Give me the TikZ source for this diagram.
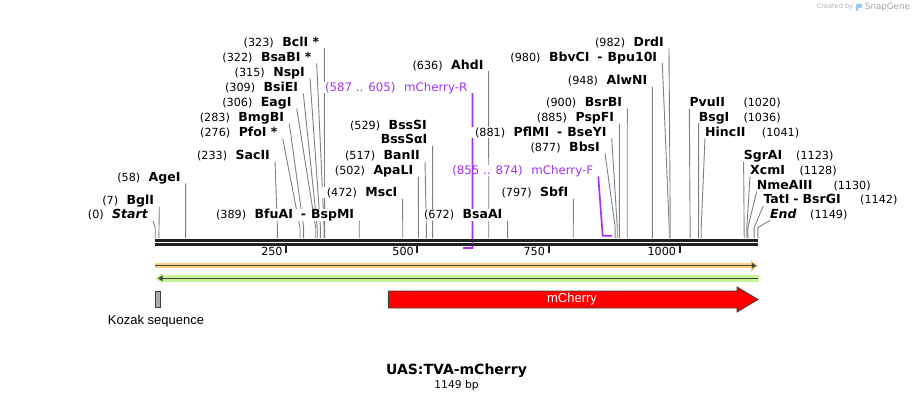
\documentclass[tikz,border=0pt]{standalone}
\usepackage{fontspec}
\setmainfont{DejaVu Sans}
\newfontfamily\arialfont{Liberation Sans}
\usetikzlibrary{arrows.meta}
\pgfdeclarelayer{background}
\pgfsetlayers{background,main}
\definecolor{primer}{RGB}{163,51,240}
\definecolor{orangeband}{RGB}{252,208,130}
\definecolor{greenband}{RGB}{200,244,150}
\definecolor{featline}{RGB}{68,68,68}
\definecolor{kozakgray}{RGB}{168,172,178}
\definecolor{logoblue}{RGB}{150,205,240}
\newcommand\enz[1]{{\fontsize{12.5}{14}\selectfont\bfseries #1}}

\begin{document}
\begin{tikzpicture}[x=1pt,y=-1pt,
  lbl/.style={font=\fontsize{11.2}{13}\selectfont,anchor=base east,fill=white,inner xsep=5pt,inner ysep=0.5pt,text height=9pt,text depth=1.5pt},
  rlbl/.style={lbl,anchor=base west,inner xsep=0pt},
  plbl/.style={lbl,text=primer,font=\fontsize{11.8}{13}\selectfont},
  cut/.style={draw=black!50,line width=0.9pt},
  pr/.style={draw=primer,line width=1.7pt},
  seq/.style={draw=black!87,line width=3pt},
  tk/.style={draw=black!87,line width=2pt},
  feat/.style={draw=black!75,line width=0.9pt}]
  \def\ox{155.2}\def\bp{0.5245}
  \useasboundingbox (0,0) rectangle (914,402);
  % ---------- sites on the sequence ----------
  \foreach \p in {0,7,58,233,276,283,306,309,315,322,323,389,472,502,517,529,636,672,797,877,881,885,900,948,980,982,1020,1036,1041,1123,1128,1130,1142,1149} {
    \coordinate (s\p) at ({\ox+\bp*\p},238);
    \coordinate (t\p) at ({\ox+\bp*\p},227.5);
  }
  \coordinate (pr587) at ({\ox+\bp*587},248);
  \coordinate (pr605) at ({\ox+\bp*605},248);
  \coordinate (pf855) at ({\ox+\bp*855-1},235.7);
  \coordinate (pf874) at ({\ox+\bp*874-1.5},235.7);
  % ---------- primers ----------
  \node[plbl] (mchR) at (472.5,91) {(587 .. 605)\hspace{8.5pt}mCherry-R};
  \node[plbl] (mchF) at (598.3,174.3) {(855 .. 874)\hspace{8.5pt}mCherry-F};
  \draw[pr] (mchR.south east) -- (pr605) -- (pr587);
  \draw[pr] (mchF.south east) -- (pf855) -- (pf874);
  % ---------- enzymes, left side ----------
  \node[lbl] (start) at (153,218.6) {(0)\hspace{8.5pt}\enz{\itshape Start}};
  \node[lbl] (bglI) at (159.3,204.3) {(7)\hspace{8.5pt}\enz{BglI}};
  \node[lbl] (ageI) at (185.7,181) {(58)\hspace{8.5pt}\enz{AgeI}};
  \node[lbl] (sacII) at (275,159.3) {(233)\hspace{8.5pt}\enz{SacII}};
  \node[lbl] (pfoI) at (282.7,136.3) {(276)\hspace{8.5pt}\enz{PfoI *}};
  \node[lbl] (bmgBI) at (289.3,121.3) {(283)\hspace{8.5pt}\enz{BmgBI}};
  \node[lbl] (eagI) at (296.7,106.3) {(306)\hspace{8.5pt}\enz{EagI}};
  \node[lbl] (bsiEI) at (303.3,91.3) {(309)\hspace{8.5pt}\enz{BsiEI}};
  \node[lbl] (nspI) at (310,76.3) {(315)\hspace{8.5pt}\enz{NspI}};
  \node[lbl] (bsaBI) at (316.7,61) {(322)\hspace{8.5pt}\enz{BsaBI *}};
  \node[lbl] (bclI) at (324.3,46) {(323)\hspace{8.5pt}\enz{BclI *}};
  \node[lbl] (bfuAI) at (359.3,218.6) {(389)\hspace{8.5pt}\enz{BfuAI\hspace{8pt}-\hspace{5pt}BspMI}};
  \node[lbl] (mscI) at (402.6,196.3) {(472)\hspace{8.5pt}\enz{MscI}};
  \node[lbl] (apaLI) at (418.4,174.3) {(502)\hspace{8.5pt}\enz{ApaLI}};
  \node[lbl] (banII) at (425,159.3) {(517)\hspace{8.5pt}\enz{BanII}};
  \node[lbl] (bssSaI) at (432.6,143.6) {\enz{BssSαI}};
  \node[lbl] (bssSI) at (432,129.3) {(529)\hspace{8.5pt}\enz{BssSI}};
  \node[lbl] (ahdI) at (488.6,69) {(636)\hspace{8.5pt}\enz{AhdI}};
  \node[lbl] (bsaAI) at (507.6,218.6) {(672)\hspace{8.5pt}\enz{BsaAI}};
  \node[lbl] (sbfI) at (573.4,196.3) {(797)\hspace{8.5pt}\enz{SbfI}};
  \node[lbl] (bbsI) at (605,151) {(877)\hspace{8.5pt}\enz{BbsI}};
  \node[lbl] (pflMI) at (611.7,136) {(881)\hspace{8.5pt}\enz{PflMI\hspace{8pt}-\hspace{5pt}BseYI}};
  \node[lbl] (pspFI) at (619.3,121.3) {(885)\hspace{8.5pt}\enz{PspFI}};
  \node[lbl] (bsrBI) at (627.3,106.3) {(900)\hspace{8.5pt}\enz{BsrBI}};
  \node[lbl] (alwNI) at (652.4,84.3) {(948)\hspace{8.5pt}\enz{AlwNI}};
  \node[lbl] (bbvCI) at (662.3,61) {(980)\hspace{8.5pt}\enz{BbvCI\hspace{8pt}-\hspace{5pt}Bpu10I}};
  \node[lbl] (drdI) at (669,46) {(982)\hspace{8.5pt}\enz{DrdI}};
  \begin{pgfonlayer}{background}
  \foreach \n/\p in {bglI/7,ageI/58,bclI/323,bfuAI/389,mscI/472,apaLI/502,bssSaI/529,ahdI/636,bsaAI/672,sbfI/797,bsrBI/900,alwNI/948}
    \draw[cut] (\n.south east) -- (s\p);
  \foreach \n/\p in {start/0,sacII/233,pfoI/276,bmgBI/283,eagI/306,bsiEI/309,nspI/315,bsaBI/322,banII/517,bbsI/877,pflMI/881,pspFI/885,bbvCI/980,drdI/982}
    \draw[cut] (\n.south east) -- (t\p) -- (s\p);
  \end{pgfonlayer}
  % ---------- enzymes, right side ----------
  \node[rlbl] (pvuII) at (689.3,106.6) {\enz{PvuII}};
  \node[rlbl] (bsgI) at (698.6,121) {\enz{BsgI}};
  \node[rlbl] (hincII) at (705,136) {\enz{HincII}};
  \node[rlbl] (sgrAI) at (743.6,159.3) {\enz{SgrAI}};
  \node[rlbl] (xcmI) at (750,174.3) {\enz{XcmI}};
  \node[rlbl] (nmeAIII) at (756.7,189.3) {\enz{NmeAIII}};
  \node[rlbl] (tatI) at (763.3,203.6) {\enz{TatI\hspace{4pt}-\hspace{4pt}BsrGI}};
  \node[rlbl] (end) at (770,218.3) {\enz{\itshape End}};
  \node[rlbl] (pvuIIn) at (743.3,106.6) {(1020)};
  \node[rlbl] (bsgIn) at (743.3,121) {(1036)};
  \node[rlbl] (hincIIn) at (761.7,136) {(1041)};
  \node[rlbl] (sgrAIn) at (796,159.3) {(1123)};
  \node[rlbl] (xcmIn) at (799.3,174.3) {(1128)};
  \node[rlbl] (nmeAIIIn) at (833.3,189.3) {(1130)};
  \node[rlbl] (tatIn) at (860,203.6) {(1142)};
  \node[rlbl] (endn) at (810,218.3) {(1149)};
  \begin{pgfonlayer}{background}
  \foreach \n/\p in {pvuII/1020,bsgI/1036,sgrAI/1123}
    \draw[cut] (\n.south west) -- (s\p);
  \foreach \n/\p in {hincII/1041,xcmI/1128,nmeAIII/1130,tatI/1142,end/1149}
    \draw[cut] (\n.south west) -- (t\p) -- (s\p);
  \end{pgfonlayer}
  % ---------- sequence and ruler ----------
  \coordinate (a1) at (155,240.5); \coordinate (b1) at (758,240.5);
  \coordinate (a2) at (155,244.5); \coordinate (b2) at (758,244.5);
  \draw[seq] (a1) -- (b1);
  \draw[seq] (a2) -- (b2);
  \draw[pr] ([yshift=-1pt]pr605 |- a1) -- ([yshift=1pt]pr605 |- a2);
  \foreach \v in {250,500,750,1000} {
    \coordinate (k\v) at ({\ox+\bp*\v},246);
    \draw[tk] (k\v) -- ++(0,7);
    \node[font=\fontsize{11.2}{13}\selectfont,anchor=base east,inner sep=0pt] (kl\v) at ({\ox+\bp*\v-3.5},255.7) {\v};
  }
  % ---------- features ----------
  \coordinate (oa) at (155,265.7); \coordinate (ob) at (758.3,265.7);
  \coordinate (ga) at (155,278.3); \coordinate (gb) at (759,278.3);
  \draw[orangeband,line width=5.3pt,-{Triangle[length=7.5pt,width=12pt]}] (oa) -- (ob);
  \draw[featline,line width=1.5pt,-{Triangle[length=4.5pt,width=5.5pt]}] (oa) -- ([xshift=-2pt]ob);
  \draw[greenband,line width=6.7pt,{Triangle[length=7.5pt,width=10pt]}-] (ga) -- (gb);
  \draw[featline,line width=1.5pt,{Triangle[length=4.5pt,width=5.5pt]}-] ([xshift=3pt]ga) -- ([xshift=-1.5pt]gb);
  \draw[feat,fill=kozakgray] (155.2,291) rectangle (160.5,307.5);
  \node[font=\arialfont\fontsize{13}{15}\selectfont] (kozak) at (156,321) {Kozak sequence};
  \draw[feat,fill=red] (388.3,291) -- (737,291) -- (737,287) -- (758,299.5) -- (737,312) -- (737,308) -- (388.3,308) -- cycle;
  \node[font=\arialfont\fontsize{13}{15}\selectfont,text=white] (mcherry) at (572,299.5) {mCherry};
  % ---------- title ----------
  \node[font=\fontsize{14}{16}\selectfont\bfseries] (title) at (456.5,371) {UAS:TVA-mCherry};
  \node[font=\fontsize{10.7}{12}\selectfont] (size) at (456.5,386) {1149 bp};
  % ---------- watermark ----------
  \node[font=\fontsize{6.6}{8}\selectfont,text=black!30,inner sep=0pt] (made) at (835,7) {Created by};
  \fill[logoblue,rounded corners=1pt] (856,3.5) rectangle (862,8);
  \fill[logoblue] (856,5) rectangle (858.3,11);
  \node[font=\fontsize{8.7}{10}\selectfont,text=black!35,inner sep=0pt] (snap) at (887.5,7) {SnapGene};
\end{tikzpicture}
\end{document}
